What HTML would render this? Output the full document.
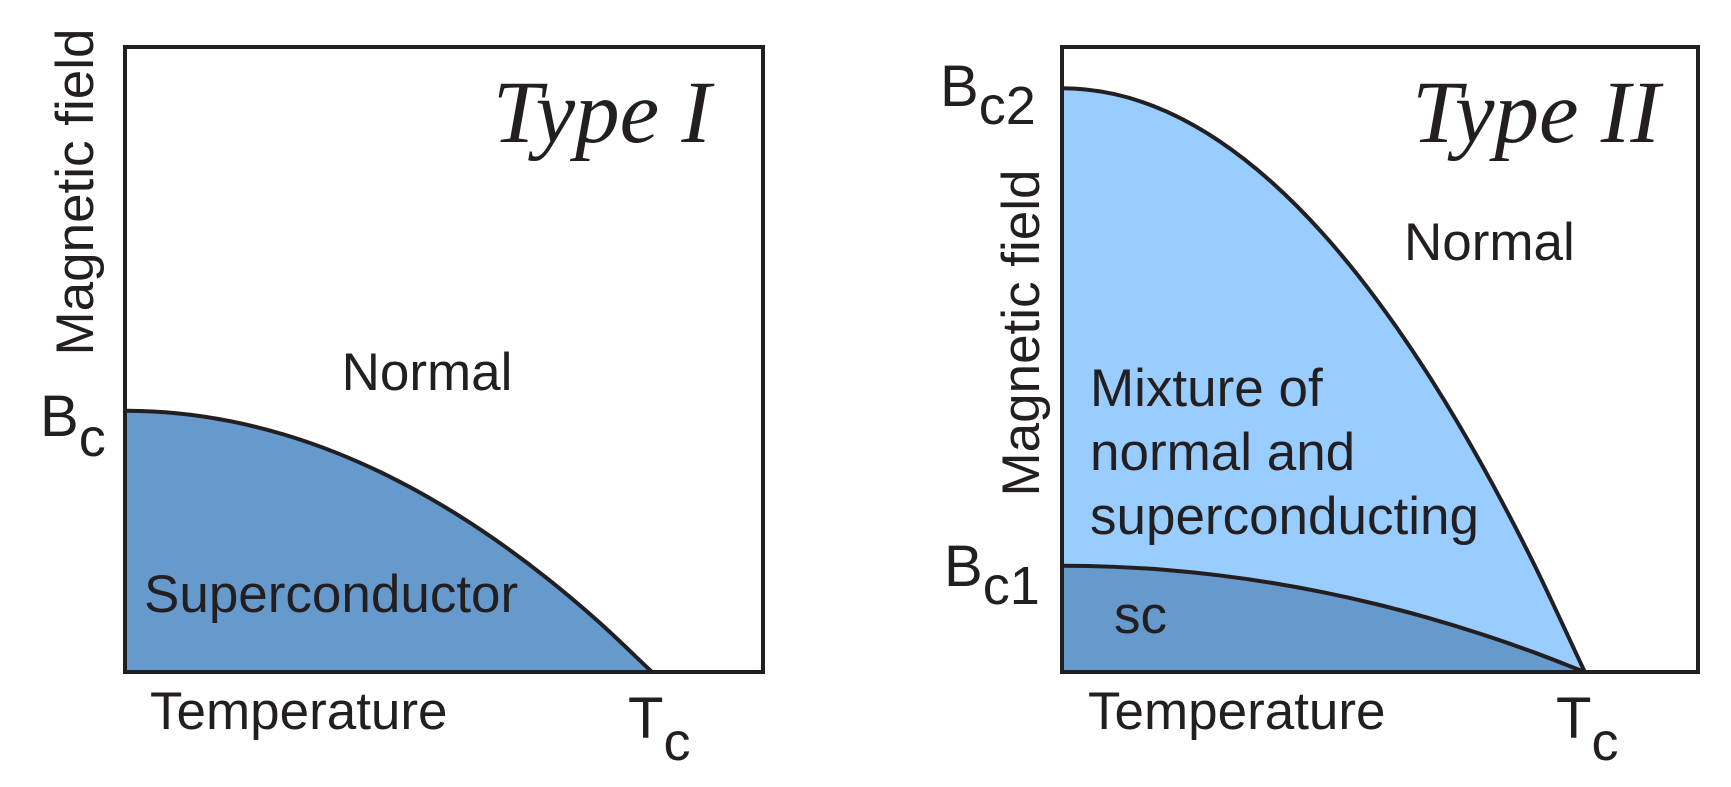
<!DOCTYPE html>
<html><head><meta charset="utf-8"><style>
html,body{margin:0;padding:0;background:#fff;}
svg{display:block;}
text{font-family:"Liberation Sans",sans-serif;fill:#231f20;}
.t{font-family:"Liberation Serif",serif;font-style:italic;font-size:89px;}
</style></head><body>
<svg width="1731" height="787" viewBox="0 0 1731 787">
<g id="p1"></g>
<g id="p2"></g>
</svg>
<script>
// Temperature as fraction of Tc
const tFrac = [0, 0.1, 0.2, 0.3, 0.4, 0.5, 0.6, 0.7, 0.8, 0.9, 1];
// Type I critical field (fraction of Bc)
const typeIField = [1, 0.99, 0.96, 0.91, 0.84, 0.75, 0.64, 0.51, 0.36, 0.19, 0];
// Type II upper critical field (fraction of Bc2)
const typeIIUpper = [1, 0.99, 0.96, 0.91, 0.84, 0.75, 0.64, 0.51, 0.36, 0.19, 0];
// Type II lower critical field (fraction of Bc1)
const typeIILower = [1, 0.99, 0.96, 0.91, 0.84, 0.75, 0.64, 0.51, 0.36, 0.19, 0];
// Critical values in axis units (0..100)
const tcI = 82.6, bcI = 41.8;
const tcII = 82.2, bc2 = 93.4, bc1 = 17.0;

const NS = 'http://www.w3.org/2000/svg';
function mk(parent, tag, attrs){
  const e = document.createElementNS(NS, tag);
  for (const k in attrs) e.setAttribute(k, attrs[k]);
  parent.appendChild(e); return e;
}
function axes(x0, x1, y0, y1){
  return { x: v => x0 + (x1 - x0) * v / 100, y: v => y1 - (y1 - y0) * v / 100 };
}
function curvePts(ax, tc, bmax, vals){
  return tFrac.map((f, i) => [ax.x(f * tc), ax.y(vals[i] * bmax)]);
}
function smooth(p){
  let d = 'M' + p[0][0] + ',' + p[0][1];
  for (let i = 0; i < p.length - 1; i++){
    const p0 = i === 0 ? [2*p[0][0]-p[1][0], p[1][1]] : p[i-1];
    const p1 = p[i], p2 = p[i+1];
    const p3 = i + 2 < p.length ? p[i+2] : [2*p2[0]-p1[0], 2*p2[1]-p1[1]];
    const c1 = [p1[0] + (p2[0]-p0[0])/6, p1[1] + (p2[1]-p0[1])/6];
    const c2 = [p2[0] - (p3[0]-p1[0])/6, p2[1] - (p3[1]-p1[1])/6];
    d += ' C' + c1[0] + ',' + c1[1] + ' ' + c2[0] + ',' + c2[1] + ' ' + p2[0] + ',' + p2[1];
  }
  return d;
}

let e;
// Panel 1
const g1 = document.getElementById('p1');
const a1 = axes(125, 763, 47, 672);
const sd1 = smooth(curvePts(a1, tcI, bcI, typeIField));
e = mk(g1, 'path', {d: sd1 + ` L${a1.x(0)},${a1.y(0)} Z`, fill: '#6699cc'});


e = mk(g1, 'path', {d: sd1, fill: 'none', stroke: '#231f20', 'stroke-width': 4});


e = mk(g1, 'rect', {x: 125, y: 47, width: 638, height: 625, fill: 'none', stroke: '#231f20', 'stroke-width': 4});



// Panel 2
const g2 = document.getElementById('p2');
const a2 = axes(1062, 1698, 47, 672);
const up = smooth(curvePts(a2, tcII, bc2, typeIIUpper));
const lo = smooth(curvePts(a2, tcII, bc1, typeIILower));
e = mk(g2, 'path', {d: up + ` L${a2.x(0)},${a2.y(0)} Z`, fill: '#99ccff'});


e = mk(g2, 'path', {d: lo + ` L${a2.x(0)},${a2.y(0)} Z`, fill: '#6699cc'});


e = mk(g2, 'path', {d: up, fill: 'none', stroke: '#231f20', 'stroke-width': 4});


e = mk(g2, 'path', {d: lo, fill: 'none', stroke: '#231f20', 'stroke-width': 4});


e = mk(g2, 'rect', {x: 1062, y: 47, width: 636, height: 625, fill: 'none', stroke: '#231f20', 'stroke-width': 4});


</script>
<svg width="1731" height="787" style="position:absolute;left:0;top:0">
<text class="t" x="711" y="142" text-anchor="end">Type I</text>
<text x="427" y="390" font-size="53" text-anchor="middle">Normal</text>
<text x="144" y="612" font-size="53">Superconductor</text>
<text x="150" y="729" font-size="53">Temperature</text>
<text x="628" y="738" font-size="58">T<tspan font-size="54" dy="22">c</tspan></text>
<text x="40" y="436" font-size="58">B<tspan font-size="54" dy="20">c</tspan></text>
<text transform="translate(93,192) rotate(-90)" font-size="53" text-anchor="middle">Magnetic field</text>

<text class="t" x="1660" y="142" text-anchor="end">Type II</text>
<text x="1404" y="260" font-size="53">Normal</text>
<text x="1090" y="406" font-size="53">Mixture of</text>
<text x="1090" y="470" font-size="53">normal and</text>
<text x="1090" y="534" font-size="53">superconducting</text>
<text x="1114" y="633" font-size="53">sc</text>
<text x="1088" y="729" font-size="53">Temperature</text>
<text x="1556" y="738" font-size="58">T<tspan font-size="54" dy="22">c</tspan></text>
<text x="940" y="106" font-size="58">B<tspan font-size="54" dy="18">c2</tspan></text>
<text x="944" y="586" font-size="58">B<tspan font-size="54" dy="18">c1</tspan></text>
<text transform="translate(1039,333) rotate(-90)" font-size="53" text-anchor="middle">Magnetic field</text>
</svg>
</body></html>
